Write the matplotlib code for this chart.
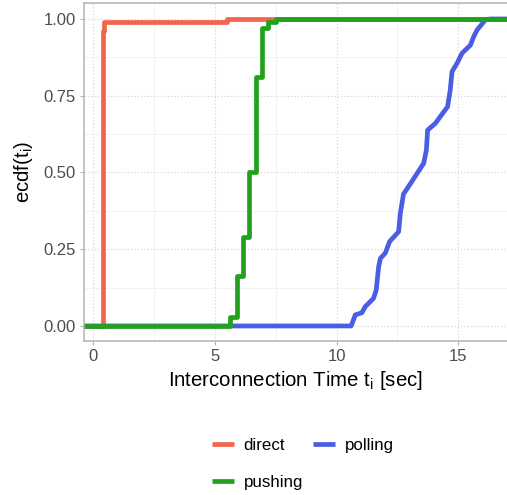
import numpy as np
import matplotlib
matplotlib.use("Agg")
import matplotlib.pyplot as plt

plt.rcParams["font.family"] = ["Liberation Sans", "DejaVu Sans"]
plt.rcParams["mathtext.fontset"] = "custom"
plt.rcParams["mathtext.rm"] = "Liberation Sans"

# ecdf step points: time of jump (sec) and ecdf value after the jump
direct_t = [0.40, 0.45, 5.5]
direct_f = [0.96, 0.99, 1.0]

pushing_t = [5.63, 5.9, 6.17, 6.4, 6.7, 6.93, 7.2, 7.5]
pushing_f = [0.03, 0.163, 0.29, 0.5, 0.81, 0.97, 0.99, 1.0]

# polling has many small steps, traced as points along the curve
polling_t = [10.6, 10.77, 11.04, 11.18, 11.52, 11.63, 11.73, 11.8, 12.0, 12.18,
             12.55, 12.62, 12.75, 12.89, 13.58, 13.69, 13.74, 14.06, 14.26, 14.56,
             14.67, 14.74, 14.95, 15.15, 15.5, 15.63, 15.77, 16.11, 16.3]
polling_f = [0.0, 0.036, 0.043, 0.063, 0.09, 0.117, 0.193, 0.22, 0.237, 0.275,
             0.307, 0.367, 0.43, 0.446, 0.53, 0.573, 0.638, 0.66, 0.682, 0.714,
             0.769, 0.828, 0.856, 0.888, 0.915, 0.942, 0.964, 0.997, 1.0]

colors = {"direct": "#F2654B", "polling": "#4A5EE3", "pushing": "#22A11C"}
lw = 3.4

fig = plt.figure(figsize=(5.07, 4.95), dpi=100)
ax = fig.add_axes([84 / 507, 1 - 341 / 495, 1 - 84 / 507, 338 / 495])

handles = {}
(handles["direct"],) = ax.step(np.r_[-1.0, direct_t, 18.0], np.r_[0.0, direct_f, 1.0],
                               where="post", color=colors["direct"], lw=lw,
                               solid_joinstyle="round")
(handles["polling"],) = ax.plot(np.r_[-1.0, polling_t, 18.0], np.r_[0.0, polling_f, 1.0],
                                color=colors["polling"], lw=lw, solid_joinstyle="round")
(handles["pushing"],) = ax.step(np.r_[-1.0, pushing_t, 18.0], np.r_[0.0, pushing_f, 1.0],
                                where="post", color=colors["pushing"], lw=lw,
                                solid_joinstyle="round")

ax.set_xlim(-0.37, 17.0)
ax.set_ylim(-0.049, 1.052)
ax.set_xticks([0, 5, 10, 15])
ax.set_yticks([0, 0.25, 0.5, 0.75, 1.0])
ax.set_yticklabels(["0.00", "0.25", "0.50", "0.75", "1.00"])
ax.set_xticks([2.5, 7.5, 12.5], minor=True)
ax.set_yticks([0.125, 0.375, 0.625, 0.875], minor=True)

ax.grid(which="major", color="#D0D0D0", lw=0.8, ls=(0, (1, 2)))
ax.grid(which="minor", color="#F0F0F0", lw=0.6, ls="-")
ax.set_axisbelow(True)
ax.tick_params(which="minor", length=0)
ax.tick_params(which="major", length=3, width=0.8, color="#B3B3B3",
               labelsize=12, labelcolor="#4D4D4D", pad=3)

for s in ["left", "top", "bottom"]:
    ax.spines[s].set_color("#B3B3B3")
    ax.spines[s].set_linewidth(1.1)
ax.spines["right"].set_visible(False)

ax.set_xlabel(r"Interconnection Time t$_\mathrm{i}$ [sec]", fontsize=14.7, labelpad=3)
ax.set_ylabel(r"ecdf(t$_\mathrm{i}$)", fontsize=14.7, labelpad=6)

leg = fig.legend([handles["direct"], handles["pushing"], handles["polling"]],
                 ["direct", "pushing", "polling"], ncol=2, frameon=False,
                 loc="center", bbox_to_anchor=(303 / 507, 1 - 464 / 495),
                 fontsize=12.2, handlelength=1.3, handletextpad=0.55,
                 columnspacing=0.6, labelspacing=1.3)
for h in leg.legend_handles:
    h.set_solid_capstyle("butt")

fig.savefig("out.png", dpi=100)
